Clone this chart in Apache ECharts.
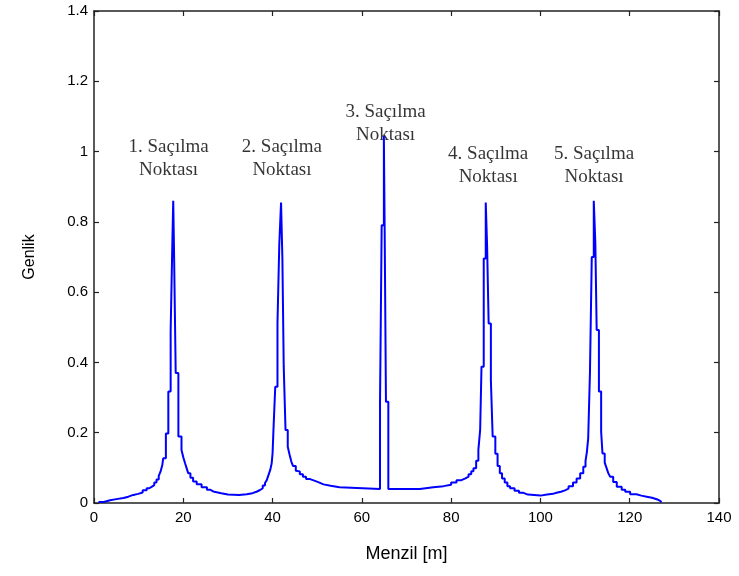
<!DOCTYPE html>
<html>
<head>
<meta charset="utf-8">
<script src="https://cdn.jsdelivr.net/npm/echarts@6/dist/echarts.min.js"></script>
<style>html,body{margin:0;padding:0;background:#fff;}#c{width:739px;height:576px;}</style>
</head>
<body>
<div id="c"></div>
<script>
// Step transition positions (m) and the level held after each transition
const rangeM = [
  1.0, 2.2, 3.6, 5.0, 6.6, 7.7, 8.8, 9.9, 10.9, 11.8, 12.4, 12.9, 13.5, 14.0, 14.5, 14.9, 15.3, 15.5,
  16.1, 16.65, 17.17, 17.55, 17.75, 17.95, 18.3, 18.9, 19.6, 20.0, 20.4, 20.8, 21.1, 21.6, 22.2, 23.0,
  24.1, 25.3, 26.0, 26.7, 28.5, 30.0, 32.5, 34.2, 35.5, 36.4, 37.2, 37.8, 38.3, 38.7, 39.1, 39.5, 39.8,
  40.0, 40.2, 40.6, 41.1, 41.5, 41.9, 42.2, 42.5, 42.9, 43.4, 43.8, 44.2, 44.6, 45.2, 45.5, 46.1, 46.8,
  47.5, 48.4, 49.5, 50.5, 51.4, 53.0, 55.0,
  64.07, 64.44, 64.93, 65.1, 65.4, 65.93,
  73.0, 76.0, 78.3, 80.0, 81.2, 82.3, 83.2, 83.9, 84.5, 85.0, 85.6, 86.1, 86.5, 86.8, 87.3, 87.75,
  88.05, 88.4, 88.9, 89.3, 89.9, 90.4, 90.9, 91.4, 92.0, 92.6, 93.2, 94.2, 95.2, 96.2, 97.2, 100.0,
  101.5, 102.8, 103.6, 104.6, 105.5, 106.3, 107.3, 108.1, 108.9, 109.6, 110.1, 110.4, 110.7, 111.1,
  111.5, 111.95, 112.3, 112.6, 113.1, 113.6, 113.9, 114.4, 114.8, 115.2, 115.6, 116.3, 117.1, 118.2,
  119.0, 120.1, 121.5, 122.6, 123.8, 125.0, 126.2, 126.9, 127.1
];
const amplitude = [
  0.003, 0.008, 0.011, 0.014, 0.018, 0.023, 0.026, 0.030, 0.036, 0.042, 0.046, 0.051, 0.058, 0.067, 0.077, 0.089, 0.108, 0.127,
  0.198, 0.317, 0.49, 0.74, 0.86, 0.696, 0.37, 0.189, 0.151, 0.13, 0.113, 0.097, 0.085, 0.072, 0.061, 0.053,
  0.045, 0.038, 0.033, 0.028, 0.024, 0.023, 0.025, 0.028, 0.032, 0.037, 0.042, 0.05, 0.057, 0.065, 0.08, 0.095, 0.113,
  0.141, 0.208, 0.331, 0.511, 0.734, 0.855, 0.696, 0.388, 0.208, 0.16, 0.138, 0.118, 0.105, 0.092, 0.09, 0.082, 0.075,
  0.068, 0.063, 0.058, 0.053, 0.049, 0.045, 0.040,
  0.288, 0.79, 1.044, 0.79, 0.288, 0.040,
  0.045, 0.048, 0.052, 0.058, 0.065, 0.07, 0.075, 0.082, 0.09, 0.099, 0.12, 0.151, 0.208, 0.388, 0.696, 0.855,
  0.734, 0.511, 0.35, 0.189, 0.14, 0.105, 0.085, 0.07, 0.058, 0.048, 0.042, 0.035, 0.029, 0.024, 0.021, 0.024,
  0.026, 0.029, 0.032, 0.036, 0.041, 0.048, 0.058, 0.07, 0.085, 0.103, 0.12, 0.145, 0.184, 0.374,
  0.70, 0.86, 0.739, 0.492, 0.317, 0.203, 0.141, 0.115, 0.1, 0.085, 0.075, 0.06, 0.046, 0.038,
  0.032, 0.025, 0.021, 0.018, 0.015, 0.010, 0.005, 0.002, 0.002
];
const xTicks = [0, 20, 40, 60, 80, 100, 120, 140];
const yTicks = [0, 0.2, 0.4, 0.6, 0.8, 1, 1.2, 1.4];
const labelTexts = ['1. Saçılma\nNoktası', '2. Saçılma\nNoktası', '3. Saçılma\nNoktası', '4. Saçılma\nNoktası', '5. Saçılma\nNoktası'];
const labelX = [16.7, 42.1, 65.3, 88.3, 112.0];
const labelY = [0.98, 0.98, 1.08, 0.96, 0.96];

const lineData = rangeM.map((x, i) => [x, amplitude[i]]);
const labelData = labelX.map((x, i) => ({ value: [x, labelY[i]], name: labelTexts[i] }));

const axisFont = { color: '#000', fontFamily: 'Liberation Sans', fontSize: 15 };
const chart = echarts.init(document.getElementById('c'), null, { renderer: 'canvas' });
chart.setOption({
  animation: false,
  backgroundColor: '#fff',
  grid: { left: 94, right: 20, top: 11, bottom: 73, containLabel: false },
  xAxis: [{
    type: 'value', min: 0, max: 140, interval: 20, position: 'bottom',
    name: 'Menzil [m]', nameLocation: 'middle', nameGap: 42,
    nameTextStyle: { color: '#000', fontFamily: 'Liberation Sans', fontSize: 18 },
    axisLine: { show: true, lineStyle: { color: '#222', width: 1.5 } },
    axisTick: { show: true, inside: true, length: 5, lineStyle: { color: '#222', width: 1.2 } },
    axisLabel: Object.assign({ margin: 7 }, axisFont),
    splitLine: { show: false }
  }, {
    type: 'value', min: 0, max: 140, interval: 20, position: 'top',
    axisLine: { show: true, onZero: false, lineStyle: { color: '#222', width: 1.5 } },
    axisTick: { show: true, inside: true, length: 5, lineStyle: { color: '#222', width: 1.2 } },
    axisLabel: { show: false }, splitLine: { show: false }
  }],
  yAxis: [{
    type: 'value', min: 0, max: 1.4, interval: 0.2, position: 'left',
    name: 'Genlik', nameLocation: 'middle', nameGap: 56, nameRotate: 90,
    nameTextStyle: { color: '#000', fontFamily: 'Liberation Sans', fontSize: 16 },
    axisLine: { show: true, onZero: false, lineStyle: { color: '#222', width: 1.5 } },
    axisTick: { show: true, inside: true, length: 5, lineStyle: { color: '#222', width: 1.2 } },
    axisLabel: Object.assign({ margin: 6, formatter: v => String(Math.round(v * 10) / 10) }, axisFont),
    splitLine: { show: false }
  }, {
    type: 'value', min: 0, max: 1.4, interval: 0.2, position: 'right',
    axisLine: { show: true, onZero: false, lineStyle: { color: '#222', width: 1.5 } },
    axisTick: { show: true, inside: true, length: 5, lineStyle: { color: '#222', width: 1.2 } },
    axisLabel: { show: false }, splitLine: { show: false }
  }],
  series: [{
    type: 'line', xAxisIndex: 0, yAxisIndex: 0, data: lineData, step: 'end',
    showSymbol: false, symbol: 'none',
    lineStyle: { color: '#0000ff', width: 2 }
  }, {
    type: 'scatter', xAxisIndex: 0, yAxisIndex: 0, data: labelData, symbolSize: 0,
    label: {
      show: true, position: 'inside', formatter: p => p.name,
      fontFamily: 'Liberation Serif', fontSize: 19, color: '#000', lineHeight: 23, align: 'center'
    }
  }]
});
</script>
</body>
</html>
